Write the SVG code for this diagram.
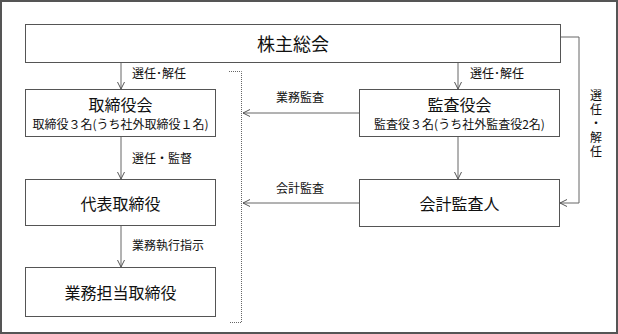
<svg xmlns="http://www.w3.org/2000/svg" width="618" height="334" viewBox="0 0 618 334">
<style>
.box{fill:#fff;stroke:#555;stroke-width:1}
.t{font-family:"Noto Sans CJK JP","Noto Sans",sans-serif;fill:#111;text-anchor:middle;dominant-baseline:central}
.big{font-size:16px}
.xl{font-size:18px}
.sm{font-size:12px}
.lbl{font-family:"Noto Sans CJK JP","Noto Sans",sans-serif;fill:#111;font-size:12px;dominant-baseline:central}
.c{fill:none;stroke:#666;stroke-width:1}
.dot{fill:none;stroke:#666;stroke-width:1;stroke-dasharray:1 1}
</style>
<defs>
<marker id="ah" markerWidth="10" markerHeight="10" refX="8" refY="4" orient="auto" markerUnits="userSpaceOnUse">
<path d="M1,0.5 L8,4 L1,7.5" fill="none" stroke="#555" stroke-width="1"/>
</marker>
</defs>
<rect x="1" y="1" width="616" height="332" fill="#fff" stroke="#555" stroke-width="2"/>
<g id="connectors">
<line class="c" x1="121" y1="62" x2="121" y2="89" marker-end="url(#ah)"/>
<line class="c" x1="121" y1="136" x2="121" y2="179" marker-end="url(#ah)"/>
<line class="c" x1="121" y1="225" x2="121" y2="267" marker-end="url(#ah)"/>
<line class="c" x1="458" y1="62" x2="458" y2="89" marker-end="url(#ah)"/>
<line class="c" x1="458" y1="136" x2="458" y2="179" marker-end="url(#ah)"/>
<polyline class="c" points="560,37 579,37 579,203 560,203" marker-end="url(#ah)"/>
<line class="c" x1="359" y1="113" x2="243" y2="113" marker-end="url(#ah)"/>
<line class="c" x1="359" y1="203" x2="243" y2="203" marker-end="url(#ah)"/>
<polyline class="dot" points="229,71.5 241.5,71.5 241.5,322.5 229,322.5"/>
<text class="lbl" x="132" y="72">選任･解任</text>
<text class="lbl" x="132" y="157">選任・監督</text>
<text class="lbl" x="132" y="244">業務執行指示</text>
<text class="lbl" x="470" y="72">選任･解任</text>
<text class="lbl" x="276" y="96">業務監査</text>
<text class="lbl" x="276" y="187">会計監査</text>
<text x="596" y="89" style="font-family:'Noto Sans CJK JP',sans-serif;font-size:12px;fill:#111;writing-mode:vertical-rl;letter-spacing:2px">選任・解任</text>
</g>
<g id="n-kabunushi"><rect class="box" x="25.5" y="24.5" width="535" height="38"/><text class="t xl" x="293" y="43">株主総会</text></g>
<g id="n-torishimariyakukai"><rect class="box" x="25.5" y="89.5" width="190" height="47"/><text class="t big" x="120.5" y="104">取締役会</text><text class="t sm" x="120.5" y="123">取締役３名(うち社外取締役１名)</text></g>
<g id="n-daihyo"><rect class="box" x="25.5" y="179.5" width="190" height="46"/><text class="t big" x="120.5" y="202.5">代表取締役</text></g>
<g id="n-gyomu"><rect class="box" x="25.5" y="267.5" width="190" height="49"/><text class="t big" x="120.5" y="292">業務担当取締役</text></g>
<g id="n-kansayakukai"><rect class="box" x="359.5" y="89.5" width="200" height="47"/><text class="t big" x="459.5" y="104">監査役会</text><text class="t sm" x="459.5" y="123">監査役３名(うち社外監査役2名)</text></g>
<g id="n-kaikei"><rect class="box" x="359.5" y="179.5" width="200" height="47"/><text class="t big" x="459.5" y="203">会計監査人</text></g>
</svg>
